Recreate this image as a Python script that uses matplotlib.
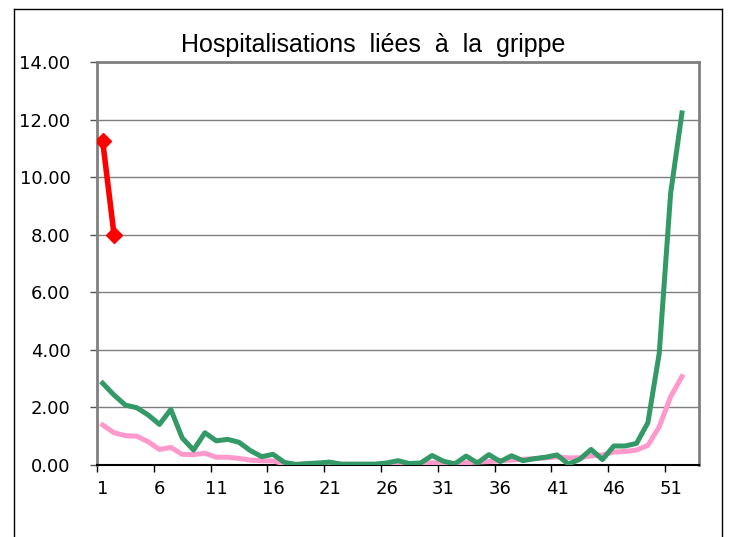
import matplotlib
matplotlib.use("Agg")
import matplotlib.pyplot as plt
import numpy as np
from matplotlib.lines import Line2D

# semaines 1..52
weeks = np.arange(1, 53)

# saison précédente (vert)
green_vals = [2.84, 2.43, 2.08, 1.99, 1.74, 1.41, 1.93, 0.94, 0.52, 1.12,
              0.84, 0.89, 0.79, 0.50, 0.29, 0.37, 0.09, 0.02, 0.05, 0.07,
              0.10, 0.03, 0.03, 0.03, 0.03, 0.07, 0.15, 0.05, 0.07, 0.33,
              0.13, 0.04, 0.31, 0.07, 0.36, 0.12, 0.32, 0.15, 0.22, 0.27,
              0.35, 0.03, 0.20, 0.54, 0.19, 0.66, 0.66, 0.75, 1.47, 3.88,
              9.43, 12.23]

# moyenne (rose)
pink_vals = [1.39, 1.12, 1.02, 1.00, 0.81, 0.54, 0.61, 0.37, 0.36, 0.41,
             0.27, 0.27, 0.23, 0.17, 0.15, 0.14, 0.04, 0.02, 0.03, 0.03,
             0.05, 0.02, 0.02, 0.02, 0.02, 0.03, 0.05, 0.03, 0.05, 0.08,
             0.05, 0.05, 0.08, 0.10, 0.12, 0.15, 0.17, 0.20, 0.22, 0.25,
             0.28, 0.25, 0.25, 0.32, 0.35, 0.45, 0.47, 0.52, 0.68, 1.33,
             2.37, 3.07]

# saison en cours (rouge)
red_weeks = [1, 2]
red_vals = [11.25, 8.00]

xtick_labels = [1, 6, 11, 16, 21, 26, 31, 36, 41, 46, 51]
ytick_vals = [0, 2, 4, 6, 8, 10, 12, 14]

fig = plt.figure(figsize=(7.32, 5.37), dpi=100)
ax = fig.add_axes([97 / 732, 1 - 465 / 537, 602 / 732, 403 / 537])

ax.plot(weeks, pink_vals, color='#FF99CC', lw=3.6, solid_joinstyle='round', zorder=3)
ax.plot(weeks, green_vals, color='#339966', lw=3.6, solid_joinstyle='round', zorder=4)
ax.plot(red_weeks, red_vals, color='#FF0000', lw=4, marker='D', markersize=8, zorder=5)

ax.set_xlim(0.5, 53.5)
ax.set_ylim(0, 14)

ax.set_yticks(ytick_vals)
ax.set_yticklabels([f"{v:.2f}" for v in ytick_vals])
ax.yaxis.grid(True, color='#7f7f7f', lw=1)
ax.set_axisbelow(True)

# étiquettes centrées sur les catégories, traits aux limites
ax.set_xticks(xtick_labels)
ax.set_xticklabels([str(v) for v in xtick_labels])
ax.set_xticks(np.arange(0.5, 51, 5), minor=True)
ax.tick_params(axis='x', which='major', length=0, pad=11, labelsize=13)
ax.tick_params(axis='x', which='minor', length=5, width=1, direction='out', color='black')
ax.tick_params(axis='y', length=5, width=1, direction='out', pad=14, labelsize=13, color='#555555')

for s in ['left', 'top', 'right']:
    ax.spines[s].set_color('#808080')
    ax.spines[s].set_linewidth(2)
ax.spines['bottom'].set_color('black')
ax.spines['bottom'].set_linewidth(1.5)

fig.text(373 / 732, 1 - 45 / 537, "Hospitalisations  liées  à  la  grippe",
         ha='center', va='center', fontsize=18, family='Liberation Sans')

# cadre extérieur
fig.add_artist(Line2D([14 / 732, 14 / 732], [0, 1 - 9 / 537], color='black', lw=1))
fig.add_artist(Line2D([14 / 732, 722 / 732], [1 - 9 / 537, 1 - 9 / 537], color='black', lw=1))
fig.add_artist(Line2D([722 / 732, 722 / 732], [0, 1 - 9 / 537], color='black', lw=1))

fig.savefig('out.png', dpi=100)
